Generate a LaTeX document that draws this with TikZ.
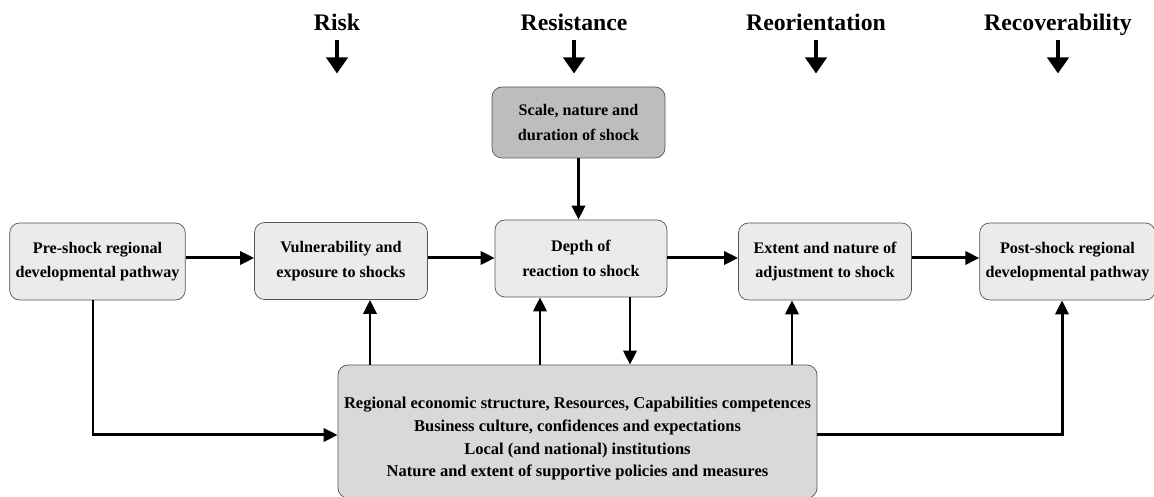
\documentclass[tikz,border=0pt]{standalone}
\usepackage{fontspec}
\setmainfont{Liberation Serif}
\usetikzlibrary{positioning}
\usetikzlibrary{calc}
\usetikzlibrary{arrows.meta}
\definecolor{boxgray}{rgb}{0.92,0.92,0.92}
\definecolor{shockgray}{rgb}{0.74,0.74,0.74}
\definecolor{basegray}{rgb}{0.85,0.85,0.85}
\definecolor{edgegray}{rgb}{0.33,0.33,0.33}

\begin{document}
\begin{tikzpicture}
    [stage/.style={rectangle, rounded corners=0.2cm, fill=boxgray, draw=edgegray, thin, minimum width=3.46cm, minimum height=1.54cm, align=center, font=\fontsize{9.2}{14}\selectfont\bfseries},
    shock/.style={stage, fill=shockgray, minimum height=1.42cm},
    base/.style={stage, fill=basegray, minimum width=9.58cm, minimum height=2.66cm, font=\fontsize{9.4}{12.9}\selectfont\bfseries},
    phase/.style={anchor=base, font=\fontsize{13.5}{15}\selectfont\bfseries},
    link/.style={-{Triangle[width=7.5pt,length=8pt]}, line width=1.7pt},
    bigarrow/.style={-{Triangle[width=0.42cm,length=0.32cm]}, line width=2.8pt}]
    \useasboundingbox (0,0) rectangle (23.08,9.94);
    %\draw[step=1cm,gray,very thin] (0,0) grid (23,10);
    \node[stage] (pre)  at (1.95, 4.71)  {Pre-shock regional\\developmental pathway};
    \node[stage] (vuln) at (6.82, 4.72)  {Vulnerability and\\exposure to shocks};
    \node[stage, minimum width=3.44cm] (depth) at (11.62, 4.77) {Depth of\\reaction to shock};
    \node[shock] (scale) at (11.57, 7.49) {Scale, nature and\\duration of shock};
    \node[stage] (adjust) at (16.50, 4.71) {Extent and nature of\\adjustment to shock};
    \node[stage, minimum width=3.42cm] (post) at (21.35, 4.71) {Post-shock regional\\developmental pathway};
    \node[base] (region) at (11.55, 1.31) {\rule{0pt}{0.52cm}Regional economic structure, Resources, Capabilities competences\\Business culture, confidences and expectations\\Local (and national) institutions\\Nature and extent of supportive policies and measures};
    % phases
    \node[phase] (risk)    at (6.74, 9.33)  {Risk};
    \node[phase] (resist)  at (11.48, 9.33) {Resistance};
    \node[phase] (reorient) at (16.32, 9.33) {Reorientation};
    \node[phase] (recover) at (21.16, 9.33) {Recoverability};
    \foreach \p in {risk, resist, reorient, recover}
        \draw[bigarrow] ($(\p.base)+(0,-0.2)$) -- ++(0,-0.66);
    % main chain
    \coordinate (row) at (0, 4.78);
    \draw[link] (pre.east |- row) -- (vuln.west |- row);
    \draw[link] (vuln.east |- row) -- (depth.west |- row);
    \draw[link] (depth.east |- row) -- (adjust.west |- row);
    \draw[link] (adjust.east |- row) -- (post.west |- row);
    \draw[link] (scale.south) -- (depth.north -| scale.south);
    % links with the regional base
    \coordinate (c1) at (1.86, 1.24);
    \coordinate (c2) at (7.40, 0);
    \coordinate (c3) at (10.80, 0);
    \coordinate (c4) at (12.60, 0);
    \coordinate (c5) at (15.84, 0);
    \coordinate (c6) at (21.24, 1.24);
    \draw[link] (pre.south -| c1) -- (c1) -- (region.west |- c1);
    \draw[link] (region.north -| c2) -- (vuln.south -| c2);
    \draw[link] (region.north -| c3) -- (depth.south -| c3);
    \draw[link] (depth.south -| c4) -- (region.north -| c4);
    \draw[link] (region.north -| c5) -- (adjust.south -| c5);
    \draw[link] (region.east |- c6) -- (c6) -- (post.south -| c6);
\end{tikzpicture}
\end{document}
